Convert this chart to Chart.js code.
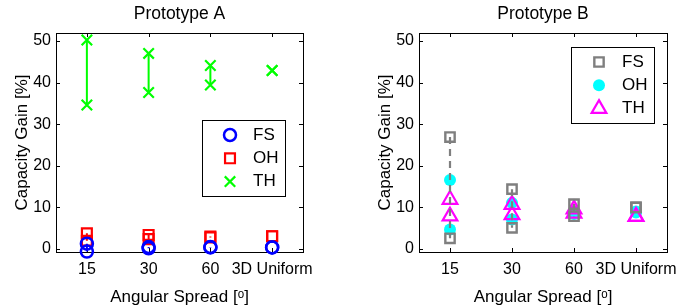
<!DOCTYPE html>
<html>
<head>
<meta charset="utf-8">
<script src="https://cdn.jsdelivr.net/npm/chart.js@4"></script>
<style>
  body { margin: 0; background: #fff; }
  #wrap { position: relative; width: 682px; height: 308px; }
  canvas { position: absolute; top: 0; }
  #chartA { left: 0; }
  #chartB { left: 341px; }
</style>
</head>
<body>
<div id="wrap">
  <canvas id="chartA" width="341" height="308"></canvas>
  <canvas id="chartB" width="341" height="308"></canvas>
</div>
<script>
'use strict';

const categories = ['15', '30', '60', '3D Uniform'];
const yTicks = [0, 10, 20, 30, 40, 50];

// Prototype A, upper and lower value per angular spread
const fsAHigh = [1.3, 0.5, 0.5, 0.4];
const fsALow = [-0.6, 0.2, 0.4, 0.4];
const ohAHigh = [3.8, 3.4, 3.0, 3.1];
const ohALow = [2.0, 2.4, 2.8, 3.1];
const thAHigh = [50.2, 47.0, 44.1, 42.9];
const thALow = [34.6, 37.6, 39.4, 42.9];

// Prototype B
const fsBHigh = [26.9, 14.4, 10.8, 10.0];
const fsBLow = [2.6, 5.1, 7.9, 10.0];
const ohBHigh = [16.6, 11.1, 9.0, 9.0];
const ohBLow = [4.7, 7.1, 8.4, 8.8];
const thBHigh = [11.9, 10.7, 9.6, 7.8];
const thBLow = [7.9, 8.2, 8.6, 7.8];

Chart.defaults.font.family = '"Liberation Sans", Arial, Helvetica, sans-serif';
Chart.defaults.color = '#000';

// high and low point for every category, null breaks the line between categories
function rangePoints(high, low) {
  return high.flatMap((h, i) => [{x: i, y: h}, {x: i, y: low[i]}, {x: i, y: null}]);
}

const boxAndTicks = {
  id: 'boxAndTicks',
  beforeDatasetsDraw(chart) {
    const {ctx, chartArea: a, scales: {x, y}} = chart;
    const len = 4;
    ctx.save();
    ctx.strokeStyle = '#000';
    ctx.lineWidth = 1;
    ctx.beginPath();
    x.ticks.forEach(t => {
      const px = Math.round(x.getPixelForValue(t.value)) + 0.5;
      ctx.moveTo(px, a.bottom); ctx.lineTo(px, a.bottom - len);
      ctx.moveTo(px, a.top); ctx.lineTo(px, a.top + len);
    });
    y.ticks.forEach(t => {
      const py = Math.round(y.getPixelForValue(t.value)) + 0.5;
      ctx.moveTo(a.left, py); ctx.lineTo(a.left + len, py);
      ctx.moveTo(a.right, py); ctx.lineTo(a.right - len, py);
    });
    ctx.stroke();
    ctx.strokeRect(a.left + 0.5, a.top + 0.5, a.right - a.left, a.bottom - a.top);
    ctx.restore();
  }
};

const boxLegend = {
  id: 'boxLegend',
  afterDatasetsDraw(chart, args, opts) {
    const {ctx, chartArea: a} = chart;
    const left = Math.round(a.right - opts.right - opts.width);
    const top = Math.round(a.top + opts.top);
    ctx.save();
    ctx.fillStyle = '#fff';
    ctx.fillRect(left, top, opts.width, opts.height);
    ctx.strokeStyle = '#000';
    ctx.lineWidth = 1;
    ctx.strokeRect(left + 0.5, top + 0.5, opts.width, opts.height);
    ctx.font = opts.font;
    ctx.textBaseline = 'middle';
    chart.data.datasets.forEach((ds, i) => {
      const yy = top + opts.firstRow + i * opts.rowGap;
      ctx.strokeStyle = ds.borderColor;
      ctx.fillStyle = ds.backgroundColor;
      ctx.lineWidth = ds.pointBorderWidth;
      Chart.helpers.drawPoint(ctx, {
        pointStyle: ds.pointStyle, radius: ds.pointRadius, rotation: 0, borderWidth: ds.pointBorderWidth
      }, left + opts.markerX, yy);
      ctx.fillStyle = '#000';
      ctx.fillText(ds.label, left + opts.textX, yy);
    });
    ctx.restore();
  }
};

function makeOptions(title, padLeft, padRight, legendPos) {
  return {
    responsive: false,
    animation: false,
    events: [],
    layout: {padding: {left: padLeft, right: padRight, top: 0, bottom: 0}},
    scales: {
      x: {
        type: 'linear',
        min: -0.5,
        max: 3.5,
        afterBuildTicks: s => { s.ticks = categories.map((c, i) => ({value: i})); },
        afterFit: s => { s.height = 56; s.paddingLeft = 0; s.paddingRight = 0; },
        grid: {display: false, drawTicks: false},
        border: {display: false},
        ticks: {
          font: {size: 16}, padding: 8, maxRotation: 0, autoSkip: false,
          callback: v => categories[v]
        },
        title: {display: true, text: 'Angular Spread [ᵒ]', font: {size: 17}, padding: {top: 6, bottom: 0}}
      },
      y: {
        type: 'linear',
        min: -0.7,
        max: 51.9,
        afterBuildTicks: s => { s.ticks = yTicks.map(v => ({value: v})); },
        afterFit: s => { s.width = 56; s.paddingTop = 0; s.paddingBottom = 0; },
        grid: {display: false, drawTicks: false},
        border: {display: false},
        ticks: {font: {size: 16}, padding: 5},
        title: {display: true, text: 'Capacity Gain [%]', font: {size: 17}, padding: {top: 12, bottom: 0}}
      }
    },
    plugins: {
      legend: {display: false},
      tooltip: {enabled: false},
      title: {
        display: true, text: title, fullSize: false,
        font: {size: 17.5, weight: 'normal'},
        padding: {top: 4, bottom: 8}
      },
      boxLegend: Object.assign({
        width: 83, height: 76, firstRow: 15, rowGap: 23.3, markerX: 28, textX: 51,
        font: '17px "Liberation Sans", Arial, sans-serif'
      }, legendPos)
    }
  };
}

new Chart(document.getElementById('chartA'), {
  type: 'scatter',
  data: {
    datasets: [{
      label: 'FS',
      data: rangePoints(fsAHigh, fsALow),
      showLine: true,
      borderColor: '#0000ff',
      backgroundColor: 'rgba(0,0,0,0)',
      borderWidth: 2,
      pointStyle: 'circle',
      pointRadius: 6,
      pointBorderWidth: 2.5,
      clip: false
    }, {
      label: 'OH',
      data: rangePoints(ohAHigh, ohALow),
      showLine: true,
      borderColor: '#ff0000',
      backgroundColor: 'rgba(0,0,0,0)',
      borderWidth: 2,
      pointStyle: 'rect',
      pointRadius: 7,
      pointBorderWidth: 2.2,
      clip: false
    }, {
      label: 'TH',
      data: rangePoints(thAHigh, thALow),
      showLine: true,
      borderColor: '#00ff00',
      backgroundColor: 'rgba(0,0,0,0)',
      borderWidth: 2,
      pointStyle: 'crossRot',
      pointRadius: 7.4,
      pointBorderWidth: 2.2,
      clip: false
    }]
  },
  options: makeOptions('Prototype A', 0, 38, {right: 18, top: 87}),
  plugins: [boxAndTicks, boxLegend]
});

new Chart(document.getElementById('chartB'), {
  type: 'scatter',
  data: {
    datasets: [{
      label: 'FS',
      data: rangePoints(fsBHigh, fsBLow),
      showLine: true,
      borderColor: '#7f7f7f',
      backgroundColor: 'rgba(0,0,0,0)',
      borderWidth: 2.2,
      borderDash: [7, 5],
      pointStyle: 'rect',
      pointRadius: 6.6,
      pointBorderWidth: 2.4,
      order: 0,
      clip: false
    }, {
      label: 'OH',
      data: rangePoints(ohBHigh, ohBLow),
      showLine: false,
      borderColor: '#00ffff',
      backgroundColor: '#00ffff',
      pointStyle: 'circle',
      pointRadius: 6,
      pointBorderWidth: 0,
      order: 2,
      clip: false
    }, {
      label: 'TH',
      data: rangePoints(thBHigh, thBLow),
      showLine: false,
      borderColor: '#ff00ff',
      backgroundColor: 'rgba(0,0,0,0)',
      pointStyle: 'triangle',
      pointRadius: 8.5,
      pointBorderWidth: 2.2,
      order: 1,
      clip: false
    }]
  },
  options: makeOptions('Prototype B', 22, 15, {right: 13, top: 14}),
  plugins: [boxAndTicks, boxLegend]
});
</script>
</body>
</html>
